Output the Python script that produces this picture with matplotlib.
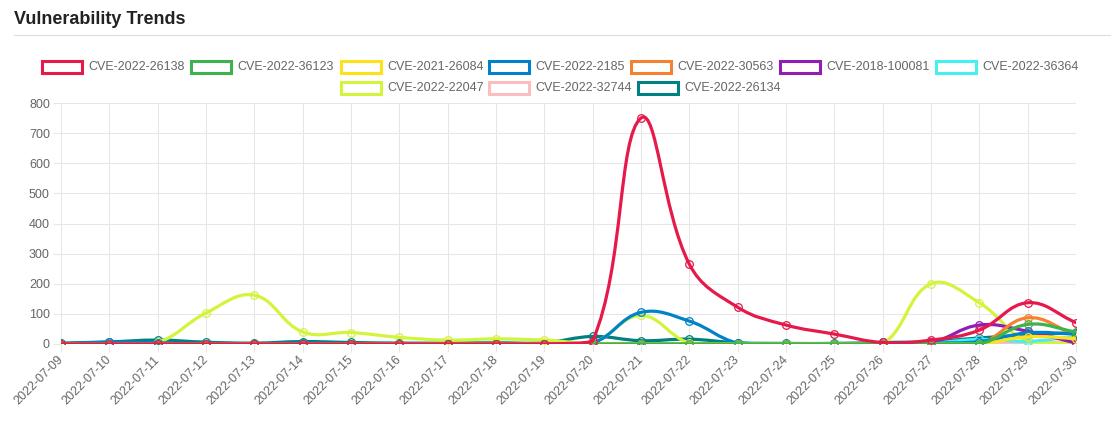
import numpy as np
import matplotlib.pyplot as plt
from matplotlib.path import Path
from matplotlib.patches import PathPatch, Rectangle

plt.rcParams['font.family'] = ['Liberation Sans', 'DejaVu Sans']

dates = ['2022-07-09', '2022-07-10', '2022-07-11', '2022-07-12', '2022-07-13',
         '2022-07-14', '2022-07-15', '2022-07-16', '2022-07-17', '2022-07-18',
         '2022-07-19', '2022-07-20', '2022-07-21', '2022-07-22', '2022-07-23',
         '2022-07-24', '2022-07-25', '2022-07-26', '2022-07-27', '2022-07-28',
         '2022-07-29', '2022-07-30']

names = ['CVE-2022-26138', 'CVE-2022-36123', 'CVE-2021-26084', 'CVE-2022-2185',
         'CVE-2022-30563', 'CVE-2018-100081', 'CVE-2022-36364', 'CVE-2022-22047',
         'CVE-2022-32744', 'CVE-2022-26134']
colors = ['#e6194b', '#3cb44b', '#ffe119', '#0082c8', '#f58231', '#911eb4',
          '#46f0f0', '#d2f53c', '#fabebe', '#008080']

cve_2022_26138 = [0, 0, 0, 0, 0, 0, 0, 0, 0, 0, 0, 10, 750, 265, 122, 63, 33, 5, 13, 46, 137, 71]
cve_2022_36123 = [0, 0, 0, 0, 0, 0, 0, 0, 0, 0, 0, 0, 0, 0, 0, 0, 0, 0, 0, 0, 65, 40]
cve_2021_26084 = [0, 0, 0, 0, 0, 0, 0, 0, 0, 0, 0, 0, 0, 0, 0, 0, 0, 0, 0, 0, 24, 18]
cve_2022_2185 = [0, 6, 4, 0, 0, 3, 0, 0, 0, 0, 0, 3, 105, 76, 3, 0, 0, 0, 3, 8, 37, 33]
cve_2022_30563 = [0, 0, 0, 0, 0, 0, 0, 0, 0, 0, 0, 0, 0, 0, 0, 0, 0, 0, 0, 0, 87, 28]
cve_2018_100081 = [0, 0, 0, 0, 0, 0, 0, 0, 0, 0, 0, 0, 0, 0, 0, 0, 0, 0, 5, 63, 42, 3]
cve_2022_36364 = [0, 0, 0, 0, 0, 0, 0, 0, 0, 0, 0, 0, 0, 0, 0, 0, 0, 0, 3, 15, 9, 25]
cve_2022_22047 = [0, 0, 5, 103, 162, 40, 38, 22, 13, 17, 13, 5, 95, 3, 0, 0, 0, 0, 200, 137, 8, 0]
cve_2022_32744 = [0, 0, 0, 0, 0, 0, 0, 0, 0, 0, 0, 0, 0, 0, 0, 0, 0, 0, 0, 0, 5, 3]
cve_2022_26134 = [3, 7, 13, 6, 3, 8, 5, 3, 3, 4, 4, 25, 11, 16, 4, 2, 2, 5, 8, 20, 30, 38]

series = [cve_2022_26138, cve_2022_36123, cve_2021_26084, cve_2022_2185, cve_2022_30563,
          cve_2018_100081, cve_2022_36364, cve_2022_22047, cve_2022_32744, cve_2022_26134]

W, H = 1118, 428
fig = plt.figure(figsize=(W / 100, H / 100), dpi=100)
ax = fig.add_axes([61 / W, (H - 344) / H, (1076 - 61) / W, (344 - 103) / H])

XS = (1076 - 61) / 21.0   # px per category
YS = (344 - 103) / 800.0  # px per unit


def spline_path(vals, tension=0.4):
    # chart.js style bezier through the points, control points capped to the area
    px = np.arange(len(vals)) * XS
    py = np.array(vals, dtype=float) * YS
    n = len(vals)
    verts = [(px[0], py[0])]
    codes = [Path.MOVETO]
    cps = []
    for i in range(n):
        p0 = (px[max(i - 1, 0)], py[max(i - 1, 0)])
        p1 = (px[i], py[i])
        p2 = (px[min(i + 1, n - 1)], py[min(i + 1, n - 1)])
        d01 = np.hypot(p1[0] - p0[0], p1[1] - p0[1])
        d12 = np.hypot(p2[0] - p1[0], p2[1] - p1[1])
        s = d01 + d12
        s01 = d01 / s if s else 0
        s12 = d12 / s if s else 0
        fa, fb = tension * s01, tension * s12
        prev_cp = (p1[0] - fa * (p2[0] - p0[0]), p1[1] - fa * (p2[1] - p0[1]))
        next_cp = (p1[0] + fb * (p2[0] - p0[0]), p1[1] + fb * (p2[1] - p0[1]))
        cps.append((prev_cp, next_cp))
    for i in range(1, n):
        c1 = cps[i - 1][1]
        c2 = cps[i][0]
        verts += [c1, c2, (px[i], py[i])]
        codes += [Path.CURVE4] * 3
    out = []
    for vx, vy in verts:
        vy = min(max(vy, 0), 800 * YS)
        out.append((vx / XS, vy / YS))
    return Path(out, codes)


x = np.arange(len(dates))
for i, (vals, c) in enumerate(zip(series, colors)):
    z = 20 - i
    ax.add_patch(PathPatch(spline_path(vals), fc='none', ec=c, lw=2.3, zorder=z,
                           capstyle='round', joinstyle='round'))
    ax.plot(x, vals, ls='none', marker='o', ms=5.5, mfc='none', mec=c, mew=0.9, zorder=z)

ax.set_xlim(0, 21)
ax.set_ylim(0, 800)
ax.set_xticks(x)
ax.set_xticklabels(dates, rotation=45, ha='right', va='center', rotation_mode='anchor')
ax.set_yticks(range(0, 801, 100))
ax.grid(True, color='#e6e6e6', lw=0.75, zorder=0)
ax.set_axisbelow(True)
for sp in ax.spines.values():
    sp.set_visible(False)
ax.tick_params(colors='#e6e6e6', length=6, width=0.75, labelsize=9, labelcolor='#666666', pad=2)
ax.tick_params(axis='x', pad=4)


def fx(px):
    return px / W


def fy(py):
    return 1 - py / H


# title and rule
fig.text(fx(14), fy(19), 'Vulnerability Trends', fontsize=13, fontweight='bold',
         color='#222222', va='center', ha='left')
fig.add_artist(plt.Line2D([fx(14), fx(1110)], [fy(35), fy(35)], color='#dddddd', lw=0.8))

# legend
leg_rows = [67, 88]
leg_pos = [(0, 40), (0, 189), (0, 339), (0, 487), (0, 629), (0, 778), (0, 934),
           (1, 339), (1, 487), (1, 636)]
for (row, bx), name, c in zip(leg_pos, names, colors):
    cy = leg_rows[row]
    fig.add_artist(Rectangle((fx(bx + 1.5), fy(cy + 6)), 40 / W, 12 / H,
                             fc='white', ec=c, lw=2.2, transform=fig.transFigure))
    fig.text(fx(bx + 48), fy(cy), name, fontsize=9, color='#666666', va='center', ha='left')

fig.savefig('out.png', dpi=100)
